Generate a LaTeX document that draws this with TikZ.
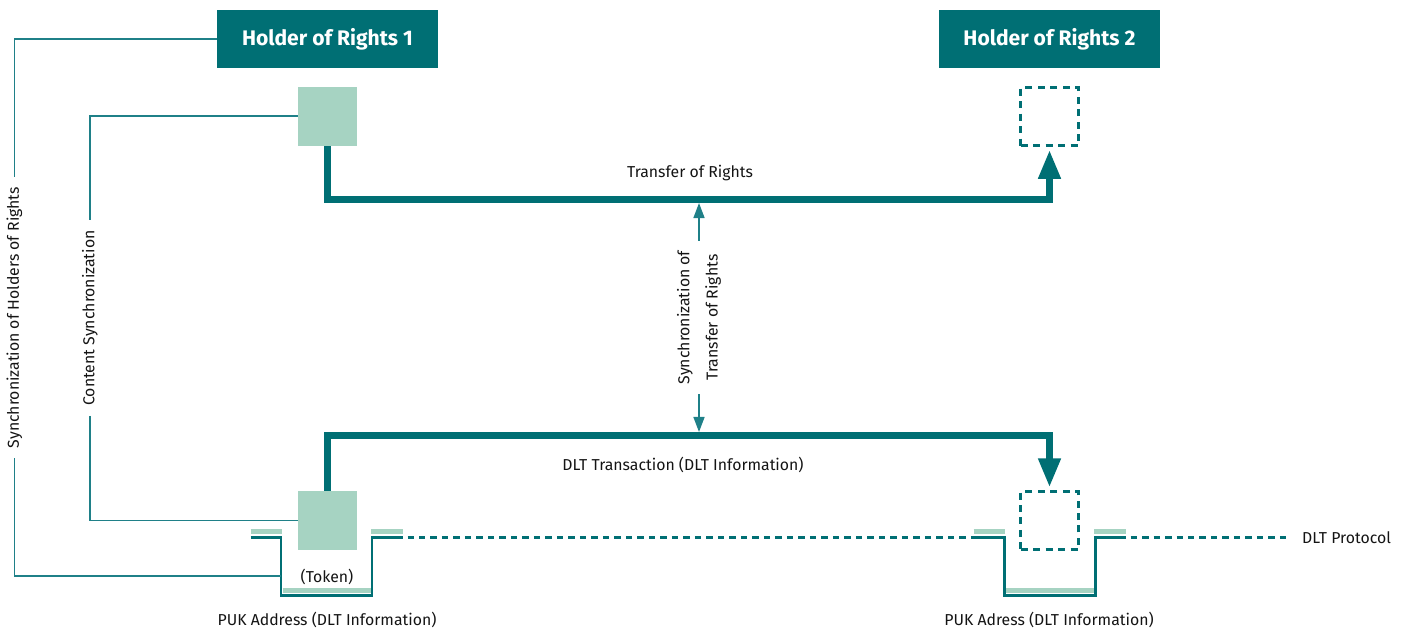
\documentclass[tikz,border=0pt]{standalone}
\usepackage{fontspec}
\setmainfont{Fira Sans}
\usepackage{tikz}
\usetikzlibrary{positioning,arrows.meta}
\definecolor{dltTeal}{HTML}{006F74}
\definecolor{dltMint}{HTML}{A6D3C2}
\definecolor{dltLine}{HTML}{1F8088}
\tikzset{
  holder/.style={fill=dltTeal,text=white,font=\fontsize{12}{14}\selectfont\bfseries,
    minimum width=4.42cm,minimum height=1.16cm,inner sep=0pt},
  token/.style={fill=dltMint,minimum size=1.18cm,inner sep=0pt},
  ghost/.style={draw=dltTeal,line width=1.6pt,dash pattern=on 1.4mm off 1.1mm,
    minimum size=1.16cm,inner sep=0pt},
  flow/.style={draw=dltTeal,line width=4pt,-{Triangle[length=5.8mm,width=4.2mm]}},
  syncline/.style={draw=dltLine,line width=0.85pt},
  syncarrow/.style={syncline,-{Triangle[length=3mm,width=2.2mm]}},
  well/.style={draw=dltTeal,line width=1.7pt},
  bar/.style={draw=dltMint,line width=2.7pt},
  protocol/.style={draw=dltTeal,line width=1.7pt,dash pattern=on 1.3mm off 1mm,dash phase=1.3mm},
  lbl/.style={font=\fontsize{9}{11}\selectfont,text=black!92}
}

\begin{document}
\begin{tikzpicture}[x=0.02cm,y=-0.02cm]
  \useasboundingbox (0,0) rectangle (1407,631);

  \node[holder] (hold1) at (327.5,39) {Holder of Rights 1};
  \node[holder] (hold2) at (1049.5,39) {Holder of Rights 2};
  \node[token, below=0.36cm of hold1] (tok1) {};
  \node[ghost, below=0.36cm of hold2] (ghost1) {};
  \node[token] (tok2) at (327.5,520.5) {};
  \node[ghost] (ghost2) at (1049.5,520.5) {};

  \coordinate (trTurn) at (1049.5,199.5);
  \coordinate (dltTurn) at (1049.5,435.5);
  \draw[flow, shorten >=1.5pt] (tok1.south) |- (trTurn) -- (ghost1.south);
  \draw[flow, shorten >=1.5pt] (tok2.north) |- (dltTurn) -- (ghost2.north);
  \node[lbl] (trlbl) at (690,173) {Transfer of Rights};
  \node[lbl] (dltlbl) at (683,465) {DLT Transaction (DLT Information)};

  \node[lbl, font=\fontsize{9}{16}\selectfont, rotate=90, align=center, inner sep=0.19cm]
    (synctr) at (699,317.5) {Synchronization of\\Transfer of Rights};
  \draw[syncarrow, shorten >=2pt] (synctr.east) -- (synctr.east |- trTurn);
  \draw[syncarrow, shorten >=2pt] (synctr.west) -- (synctr.west |- dltTurn);

  \foreach \cx/\w in {326.5/A,1049.5/B}{
    \coordinate (well\w-l) at ({\cx-76},537.5);
    \coordinate (well\w-r) at ({\cx+76},537.5);
    \coordinate (well\w-wall) at ({\cx-45.5},576);
    \draw[bar] ({\cx-76},531.5) -- ({\cx-44.5},531.5) ({\cx+44.5},531.5) -- ({\cx+76},531.5);
    \draw[bar] ({\cx-44},590.5) -- ({\cx+44},590.5);
    \draw[well] (well\w-l) -| ({\cx-45.5},595.5) -| ({\cx+45.5},537.5) -- (well\w-r);
  }
  \node[lbl, anchor=west] (proto) at (1296,537.5) {DLT Protocol};
  \draw[protocol] (wellA-r) -- (wellB-l);
  \draw[protocol, shorten >=4pt] (wellB-r) -- (proto.west);

  \node[lbl] (toklbl) at (327,576.5) {(Token)};
  \node[lbl] (pukA) at (327,620) {PUK Address (DLT Information)};
  \node[lbl] (pukB) at (1049,620) {PUK Adress (DLT Information)};

  \node[lbl, rotate=90, inner sep=0.2cm] (synchold) at (14.5,317.5)
    {Synchronization of Holders of Rights};
  \node[lbl, rotate=90, inner sep=0.2cm] (synccont) at (90,318) {Content Synchronization};
  \draw[syncline] (hold1.west) -| (synchold.east);
  \draw[syncline] (synchold.west) |- (wellA-wall);
  \draw[syncline] (tok1.west) -| (synccont.east);
  \draw[syncline] (synccont.west) |- (tok2.west);
\end{tikzpicture}
\end{document}
